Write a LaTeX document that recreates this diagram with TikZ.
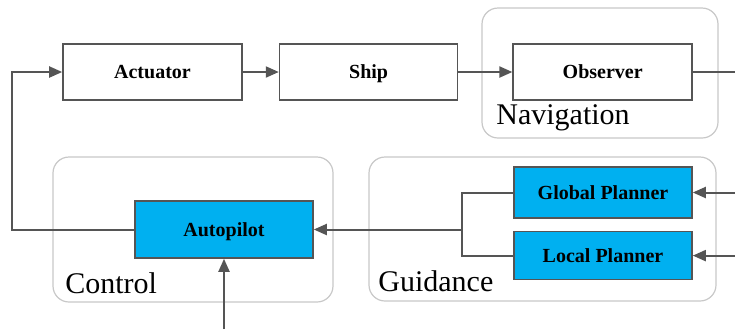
\documentclass[tikz,border=0pt]{standalone}
\usepackage{fontspec}
\setmainfont{Liberation Serif}
\newfontfamily\diagfont{Liberation Serif}
\usetikzlibrary{arrows.meta,positioning}

\definecolor{skyblue}{RGB}{0,176,240}
\definecolor{linegray}{RGB}{85,85,85}
\definecolor{framegray}{RGB}{200,200,200}

\begin{document}
\begin{tikzpicture}[>={Triangle[length=6.5pt,width=5.5pt]},
    block/.style={rectangle,draw=linegray,line width=0.8pt,minimum width=89.5pt,
        minimum height=28pt,inner sep=0pt,text height=7pt,text depth=0.5pt,
        font=\diagfont\fontsize{10}{12}\selectfont\bfseries},
    planner/.style={block,fill=skyblue,minimum width=89pt},
    group/.style={draw=framegray,line width=0.6pt,rounded corners=8pt},
    group label/.style={anchor=base west,inner sep=0pt,font=\diagfont\fontsize{15}{18}\selectfont},
    wire/.style={draw=linegray,line width=1pt}]

    \useasboundingbox (0,0) rectangle (367.5pt,-164.5pt);

    % groups
    \draw[group] (241pt,-4pt) rectangle (359pt,-69pt);
    \draw[group] (26.5pt,-78.5pt) rectangle (166.5pt,-151pt);
    \draw[group] (184.5pt,-78.5pt) rectangle (358pt,-150.5pt);

    % blocks
    \node[block] (act) at (76.25pt,-36pt) {Actuator};
    \node[block,minimum width=89pt] (ship) [right=18pt of act] {Ship};
    \node[block] (obs) [right=27pt of ship] {Observer};

    \node[planner,minimum height=28.5pt] (auto) at (112pt,-114.75pt) {Autopilot};
    \node[planner,minimum height=25.5pt] (gp) at (301.5pt,-96.25pt) {Global Planner};
    \node[planner,minimum height=24pt] (lp) [below=6pt of gp] {Local Planner};

    % group labels
    \node[group label] (navlabel) at (248pt,-62pt) {Navigation};
    \node[group label] (ctrllabel) at (32.5pt,-146.5pt) {Control};
    \node[group label] (guidlabel) at (189pt,-145.5pt) {Guidance};

    % free ends
    \coordinate (loop) at (6pt,0);
    \coordinate (rightedge) at (367.5pt,0);
    \coordinate (bottomedge) at (0,-164.5pt);
    \coordinate (join) at (231pt,0);

    % connectors
    \draw[wire,->] (act) -- (ship);
    \draw[wire,->] (ship) -- (obs);
    \draw[wire,line width=0.6pt] (obs) -- (obs -| rightedge);
    \draw[wire,->] (auto.west) -- (auto.west -| loop) -- (act.west -| loop) -- (act.west);
    \draw[wire] (gp.west) -- (gp.west -| join) -- (lp.west -| join) -- (lp.west);
    \draw[wire,->] (join |- auto) -- (auto.east);
    \draw[wire,->] (gp.east -| rightedge) -- (gp.east);
    \draw[wire,->] (lp.east -| rightedge) -- (lp.east);
    \draw[wire,->] (auto.south |- bottomedge) -- (auto.south);
\end{tikzpicture}
\end{document}
